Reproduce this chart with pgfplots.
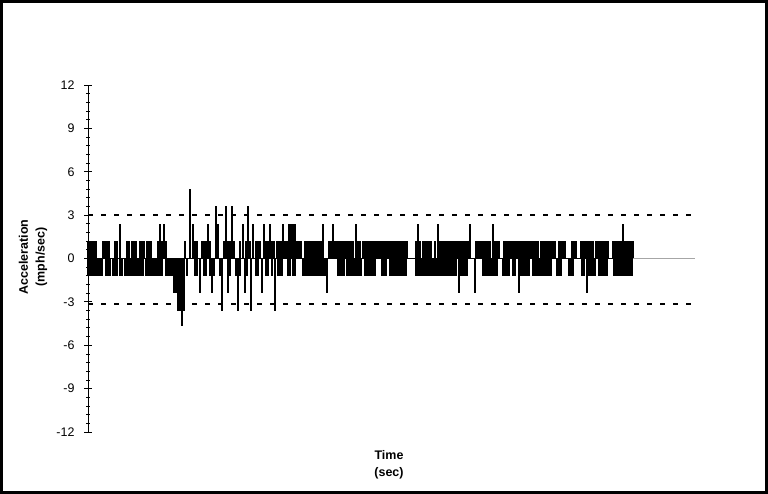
\documentclass[border=0pt]{standalone}
\usepackage{pgfplots}
\pgfplotsset{compat=1.18}
\usepackage{fontspec}
\setmainfont{Liberation Sans}
\begin{document}
\begin{tikzpicture}[x=1bp,y=1bp]
\useasboundingbox (0,0) rectangle (768,494);
\draw[line width=2.5bp] (1.5,1.5) rectangle (766.5,492.5);
\begin{axis}[
  at={(88bp,62bp)}, anchor=south west,
  scale only axis, width=607bp, height=347bp,
  xmin=88, xmax=695, ymin=-12, ymax=12,
  axis x line=none, axis y line*=left,
  y axis line style={line width=0.9bp},
  ytick={-12,-9,...,12}, minor y tick num=4,
  tick align=center, major tick length=8bp, minor tick length=4bp,
  tick style={black, line width=0.8bp},
  yticklabel style={font=\fontsize{12.5}{14}\selectfont, xshift=-6bp},
  /pgf/number format/assume math mode=true,
  clip=false,
]
% zero line
\addplot[gray!70, line width=0.6bp] coordinates {(88,0) (695,0)};
\addplot[black, line width=0.8bp] coordinates {(88,0) (633,0)};
% limits
\addplot[black, line width=1.6bp, dash pattern=on 5bp off 8bp] coordinates {(88,3.0) (695,3.0)};
\addplot[black, line width=1.6bp, dash pattern=on 5bp off 8bp] coordinates {(88,-3.15) (695,-3.15)};
% positive accelerations
\addplot[ycomb, black, line width=1.15bp, mark=none] coordinates {
(88,1.2)(90,1.2)(92,1.2)(94,1.2)(96,1.2)
(103,1.2)(105,1.2)(107,1.2)(109,1.2)
(115,1.2)(117,1.2)(120,2.4)
(127,1.2)(129,1.2)
(132,1.2)(134,1.2)(136,1.2)
(140,1.2)(142,1.2)(144,1.2)
(147,1.2)(149,1.2)(151,1.2)
(158,1.2)(160,2.4)(162,1.2)(164,2.4)(166,1.2)
(185,1.2)
(190,4.8)
(193,2.4)
(195,1.2)(197,1.2)
(202,1.2)(204,1.2)(206,1.2)
(208,2.4)
(210,1.2)
(216,3.6)
(218,2.4)
(224,1.2)
(226,3.6)(228,1.2)(230,1.2)(232,3.6)
(234,1.2)
(240,1.2)
(243,2.4)
(246,1.2)
(248,3.6)
(250,1.2)
(253,2.4)
(256,1.2)(258,1.2)(260,1.2)
(264,2.4)
(266,1.2)(268,1.2)
(270,2.4)
(272,1.2)(274,1.2)
(277,1.2)(279,1.2)(281,1.2)
(283,2.4)
(285,1.2)(287,1.2)
(289,2.4)(291,2.4)(293,2.4)(295,2.4)
(297,1.2)(299,1.2)(301,1.2)
(305,1.2)(307,1.2)(309,1.2)(311,1.2)(313,1.2)(315,1.2)(317,1.2)(319,1.2)(321,1.2)
(323,2.4)
(329,1.2)(331,1.2)
(333,2.4)
(335,1.2)(337,1.2)(339,1.2)(341,1.2)(343,1.2)(345,1.2)(347,1.2)(349,1.2)(351,1.2)(353,1.2)
(356,2.4)
(358,1.2)(360,1.2)
(363,1.2)(365,1.2)(367,1.2)(369,1.2)(371,1.2)(373,1.2)(375,1.2)(377,1.2)
(379,1.2)(381,1.2)(383,1.2)(385,1.2)(387,1.2)
(389,1.2)(391,1.2)(393,1.2)(395,1.2)(397,1.2)(399,1.2)(401,1.2)(403,1.2)(405,1.2)(407,1.2)
(416,1.2)(418,2.4)(420,1.2)
(423,1.2)(425,1.2)(427,1.2)(429,1.2)(431,1.2)
(435,1.2)(438,2.4)(440,1.2)(442,1.2)(444,1.2)(446,1.2)(448,1.2)
(450,1.2)(452,1.2)(454,1.2)(456,1.2)(458,1.2)
(460,1.2)(462,1.2)(464,1.2)(466,1.2)(468,1.2)
(470,2.4)
(476,1.2)(478,1.2)(480,1.2)(482,1.2)(484,1.2)
(486,1.2)(488,1.2)(490,1.2)
(493,2.4)
(495,1.2)(497,1.2)(499,1.2)
(504,1.2)(506,1.2)(508,1.2)(510,1.2)(512,1.2)
(514,1.2)(516,1.2)(518,1.2)(520,1.2)(522,1.2)(524,1.2)(526,1.2)
(528,1.2)(530,1.2)(532,1.2)(534,1.2)(536,1.2)(538,1.2)
(541,1.2)(543,1.2)(545,1.2)(547,1.2)
(549,1.2)(551,1.2)(553,1.2)(555,1.2)
(559,1.2)(561,1.2)(563,1.2)(565,1.2)
(572,1.2)(574,1.2)(576,1.2)
(581,1.2)(583,1.2)(585,1.2)
(587,1.2)(589,1.2)(591,1.2)(593,1.2)
(596,1.2)(598,1.2)(600,1.2)(602,1.2)(604,1.2)
(606,1.2)(608,1.2)
(613,1.2)(615,1.2)(617,1.2)(619,1.2)(621,1.2)
(623,2.4)
(625,1.2)(627,1.2)(629,1.2)(631,1.2)(633,1.2)
};
% negative accelerations
\addplot[ycomb, black, line width=1.15bp, mark=none] coordinates {
(88,-1.2)(90,-1.2)(92,-1.2)(94,-1.2)(96,-1.2)
(98,-1.2)(100,-1.2)(102,-1.2)
(106,-1.2)(108,-1.2)(110,-1.2)
(113,-1.2)(115,-1.2)(117,-1.2)
(120,-1.2)(122,-1.2)
(125,-1.2)(127,-1.2)(129,-1.2)
(131,-1.2)(133,-1.2)
(135,-1.2)(137,-1.2)(139,-1.2)
(141,-1.2)(143,-1.2)
(146,-1.2)(148,-1.2)(150,-1.2)(152,-1.2)
(154,-1.2)(156,-1.2)(158,-1.2)(160,-1.2)(162,-1.2)
(166,-1.2)(168,-1.2)(170,-1.2)(172,-1.2)
(174,-2.4)(176,-2.4)
(178,-3.6)(180,-3.6)(182,-4.7)(184,-3.6)
(187,-1.2)
(195,-1.2)(197,-1.2)
(200,-2.4)
(204,-1.2)(206,-1.2)
(210,-1.2)(212,-2.4)(214,-1.2)
(220,-1.2)
(222,-3.6)
(228,-2.4)
(230,-1.2)
(236,-1.2)
(238,-3.6)
(240,-1.2)
(245,-2.4)
(247,-1.2)
(251,-3.6)
(256,-1.2)(258,-1.2)
(262,-2.4)
(266,-1.2)(268,-1.2)
(272,-1.2)
(275,-3.6)
(278,-1.2)(280,-1.2)(282,-1.2)
(288,-1.2)(290,-1.2)
(293,-1.2)(295,-1.2)
(303,-1.2)(305,-1.2)(307,-1.2)(309,-1.2)(311,-1.2)(313,-1.2)
(315,-1.2)(317,-1.2)(319,-1.2)(321,-1.2)(323,-1.2)(325,-1.2)
(327,-2.4)
(338,-1.2)(340,-1.2)(342,-1.2)(344,-1.2)
(347,-1.2)(349,-1.2)(351,-1.2)(353,-1.2)
(355,-1.2)(357,-1.2)(359,-1.2)(361,-1.2)
(365,-1.2)(367,-1.2)(369,-1.2)(371,-1.2)(373,-1.2)(375,-1.2)
(382,-1.2)(384,-1.2)(386,-1.2)
(390,-1.2)(392,-1.2)(394,-1.2)(396,-1.2)(398,-1.2)(400,-1.2)(402,-1.2)(404,-1.2)(406,-1.2)
(416,-1.2)(418,-1.2)(420,-1.2)(422,-1.2)(424,-1.2)(426,-1.2)(428,-1.2)(430,-1.2)(432,-1.2)(434,-1.2)
(436,-1.2)(438,-1.2)(440,-1.2)(442,-1.2)(444,-1.2)(446,-1.2)(448,-1.2)(450,-1.2)(452,-1.2)(454,-1.2)(456,-1.2)
(459,-2.4)
(461,-1.2)(463,-1.2)(465,-1.2)(467,-1.2)
(475,-2.4)
(483,-1.2)(485,-1.2)(487,-1.2)(489,-1.2)(491,-1.2)(493,-1.2)(495,-1.2)(497,-1.2)
(503,-1.2)(505,-1.2)(507,-1.2)(509,-1.2)
(513,-1.2)(515,-1.2)
(519,-2.4)
(521,-1.2)(523,-1.2)(525,-1.2)(527,-1.2)(529,-1.2)
(533,-1.2)(535,-1.2)(537,-1.2)(539,-1.2)(541,-1.2)
(543,-1.2)(545,-1.2)(547,-1.2)(549,-1.2)(551,-1.2)
(557,-1.2)(559,-1.2)(561,-1.2)
(569,-1.2)(571,-1.2)(573,-1.2)
(582,-1.2)(584,-1.2)
(587,-2.4)
(589,-1.2)(591,-1.2)(593,-1.2)(595,-1.2)
(599,-1.2)(601,-1.2)(603,-1.2)(605,-1.2)(607,-1.2)
(614,-1.2)(616,-1.2)(618,-1.2)(620,-1.2)(622,-1.2)(624,-1.2)(626,-1.2)
(628,-1.2)(630,-1.2)(632,-1.2)
};
\end{axis}
\node[font=\bfseries\fontsize{12.5}{17}\selectfont, align=center, rotate=90] at (33,237) {Acceleration\\(mph/sec)};
\node[font=\bfseries\fontsize{12.5}{17}\selectfont, align=center] at (389,29) {Time\\(sec)};
\end{tikzpicture}
\end{document}
